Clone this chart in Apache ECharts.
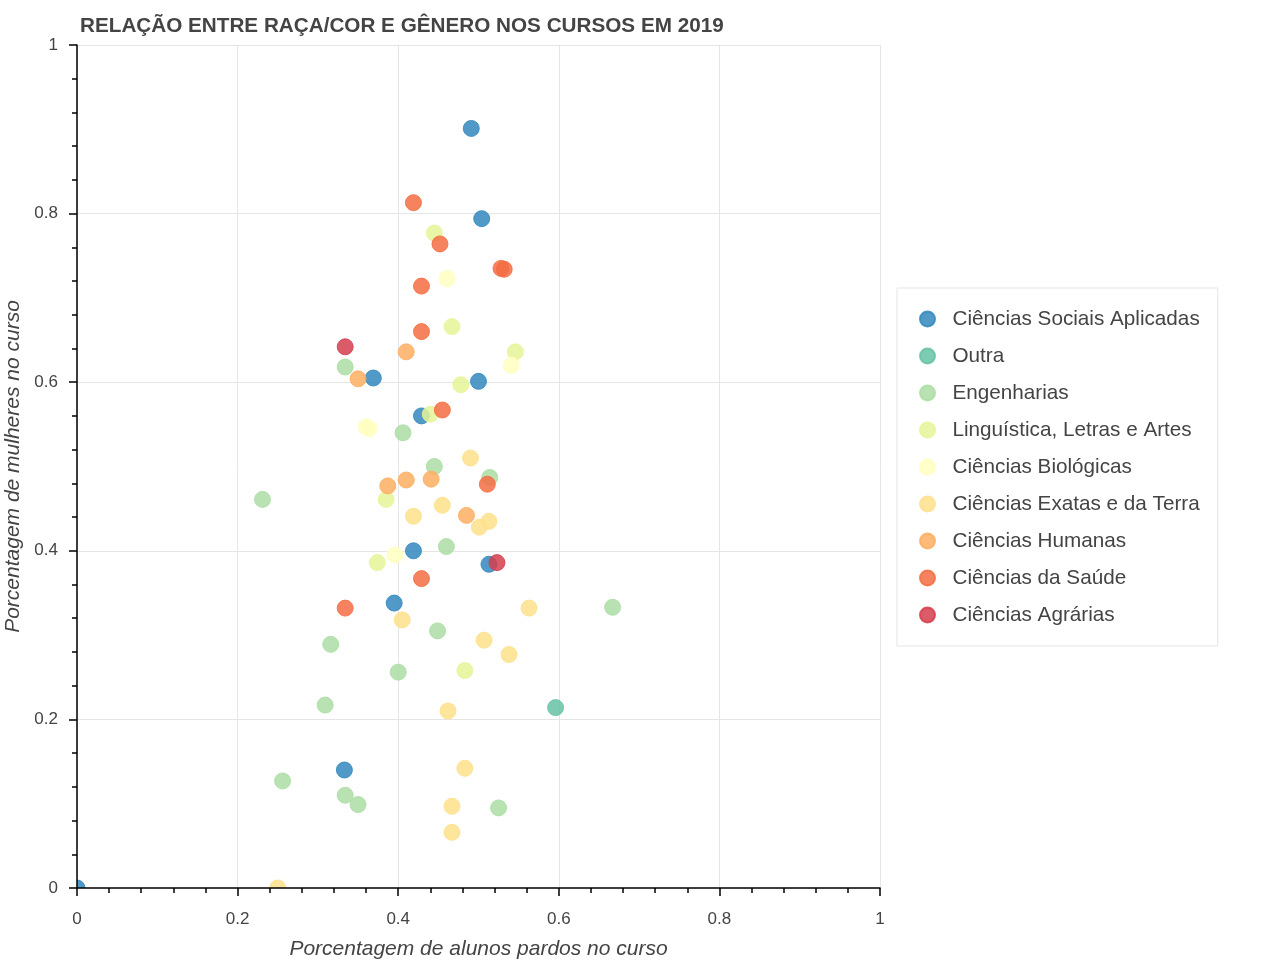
<!DOCTYPE html>
<html>
<head>
<meta charset="utf-8">
<script src="https://cdn.jsdelivr.net/npm/echarts@6/dist/echarts.min.js"></script>
<style>html,body{margin:0;padding:0;background:#fff}#c{width:1280px;height:960px}</style>
</head>
<body>
<div id="c"></div>
<script>
// ---- data (x = % pardos, y = % mulheres) ----
const categories = ['Ciências Sociais Aplicadas','Outra','Engenharias','Linguística, Letras e Artes','Ciências Biológicas','Ciências Exatas e da Terra','Ciências Humanas','Ciências da Saúde','Ciências Agrárias'];
const colors = ['#3288bd','#66c2a5','#abdda4','#e6f598','#ffffbf','#fee08b','#fdae61','#f46d43','#d53e4f'];

const sociaisAplicadas = [[0.491,0.901],[0.504,0.794],[0.369,0.605],[0.5,0.601],[0.429,0.56],[0.419,0.4],[0.513,0.384],[0.395,0.338],[0.333,0.14],[0,0]];
const outra = [[0.596,0.214]];
const engenharias = [[0.334,0.618],[0.406,0.54],[0.231,0.461],[0.445,0.5],[0.514,0.487],[0.46,0.405],[0.316,0.289],[0.449,0.305],[0.667,0.333],[0.4,0.256],[0.309,0.217],[0.256,0.127],[0.334,0.11],[0.35,0.099],[0.525,0.095]];
const linguistica = [[0.445,0.777],[0.467,0.666],[0.546,0.636],[0.478,0.597],[0.44,0.562],[0.385,0.461],[0.374,0.386],[0.483,0.258]];
const biologicas = [[0.461,0.723],[0.541,0.62],[0.36,0.547],[0.364,0.545],[0.396,0.395]];
const exatas = [[0.49,0.51],[0.419,0.441],[0.455,0.454],[0.513,0.435],[0.501,0.428],[0.563,0.332],[0.405,0.318],[0.507,0.294],[0.538,0.277],[0.462,0.21],[0.483,0.142],[0.467,0.097],[0.467,0.066],[0.25,0]];
const humanas = [[0.41,0.636],[0.35,0.604],[0.387,0.477],[0.41,0.484],[0.441,0.485],[0.485,0.442]];
const saude = [[0.419,0.813],[0.452,0.764],[0.528,0.735],[0.532,0.734],[0.429,0.714],[0.429,0.66],[0.455,0.567],[0.511,0.479],[0.429,0.367],[0.334,0.332]];
const agrarias = [[0.334,0.642],[0.523,0.386]];
const seriesData = [sociaisAplicadas, outra, engenharias, linguistica, biologicas, exatas, humanas, saude, agrarias];

const titleText = 'RELAÇÃO ENTRE RAÇA/COR E GÊNERO NOS CURSOS EM 2019';
const xName = 'Porcentagem de alunos pardos no curso';
const yName = 'Porcentagem de mulheres no curso';

// ---- layout ----
const W = 1280, H = 960;
const GL = 77, GT = 45, GW = 803, GH = 843;
const FONT = '"Liberation Sans", Arial, Helvetica, sans-serif';
const TXT = '#444';

const chart = echarts.init(document.getElementById('c'), null, {renderer: 'canvas'});

const baseAxis = {
  min: 0, max: 1, interval: 0.2
};

const series = categories.map((name, i) => ({
  name: name,
  type: 'scatter',
  xAxisIndex: 0, yAxisIndex: 0,
  data: seriesData[i],
  symbol: 'circle',
  symbolSize: 16,
  z: 2,
  itemStyle: { color: colors[i], opacity: 0.85, borderColor: colors[i], borderWidth: 1 },
  emphasis: { disabled: true }
}));

chart.setOption({
  animation: false,
  backgroundColor: '#fff',
  textStyle: { fontFamily: FONT },
  title: {
    text: titleText, left: 80, top: 16, padding: 0,
    textStyle: { fontFamily: FONT, fontSize: 20.7, fontWeight: 'bold', color: TXT }
  },
  grid: { left: GL, top: GT, width: GW, height: GH, containLabel: false, outerBoundsMode: 'none' },
  legend: {
    orient: 'vertical', left: 897, top: 288,
    padding: [20, 18, 20, 22],
    itemGap: 15, itemWidth: 40, itemHeight: 15,
    icon: 'circle',
    data: categories,
    borderColor: '#e5e5e5', borderWidth: 1, backgroundColor: '#fff',
    textStyle: { fontFamily: FONT, fontSize: 20.7, color: TXT, lineHeight: 22 }
  },
  xAxis: [
    Object.assign({}, baseAxis, {
      type: 'value', gridIndex: 0, position: 'bottom', z: 0,
      axisLine: { show: false }, axisTick: { show: false }, axisLabel: { show: false },
      splitLine: { show: true, lineStyle: { color: '#e5e5e5', width: 1 } }
    }),
    Object.assign({}, baseAxis, {
      type: 'value', gridIndex: 0, position: 'bottom', z: 10,
      name: xName, nameLocation: 'middle', nameGap: 51,
      nameTextStyle: { fontFamily: FONT, fontSize: 21, fontStyle: 'italic', color: TXT },
      axisLine: { show: true, onZero: false, lineStyle: { color: '#000', width: 1.5 } },
      axisTick: { show: true, length: 8, lineStyle: { color: '#000', width: 1.5 } },
      minorTick: { show: true, splitNumber: 5, length: 5, lineStyle: { color: '#000', width: 1.5 } },
      axisLabel: { show: true, margin: 23, fontFamily: FONT, fontSize: 17, color: TXT },
      splitLine: { show: false }
    })
  ],
  yAxis: [
    Object.assign({}, baseAxis, {
      type: 'value', gridIndex: 0, position: 'left', z: 0,
      axisLine: { show: false }, axisTick: { show: false }, axisLabel: { show: false },
      splitLine: { show: true, lineStyle: { color: '#e5e5e5', width: 1 } }
    }),
    Object.assign({}, baseAxis, {
      type: 'value', gridIndex: 0, position: 'left', offset: 0, z: 10,
      name: yName, nameLocation: 'middle', nameGap: 42,
      nameTextStyle: { fontFamily: FONT, fontSize: 21, fontStyle: 'italic', color: TXT },
      axisLine: { show: true, onZero: false, lineStyle: { color: '#000', width: 1.5 } },
      axisTick: { show: true, length: 8, lineStyle: { color: '#000', width: 1.5 } },
      minorTick: { show: true, splitNumber: 5, length: 5, lineStyle: { color: '#000', width: 1.5 } },
      axisLabel: { show: true, margin: 19, fontFamily: FONT, fontSize: 17, color: TXT },
      splitLine: { show: false }
    })
  ],
  // white masks outside the plot frame so marks are clipped to the frame (as in the original)
  graphic: [
    { type: 'rect', silent: true, z: 5, shape: { x: 0, y: GT + GH, width: W, height: H - GT - GH }, style: { fill: '#fff' } },
    { type: 'rect', silent: true, z: 5, shape: { x: 0, y: 0, width: GL, height: H }, style: { fill: '#fff' } }
  ],
  series: series
});
</script>
</body>
</html>
